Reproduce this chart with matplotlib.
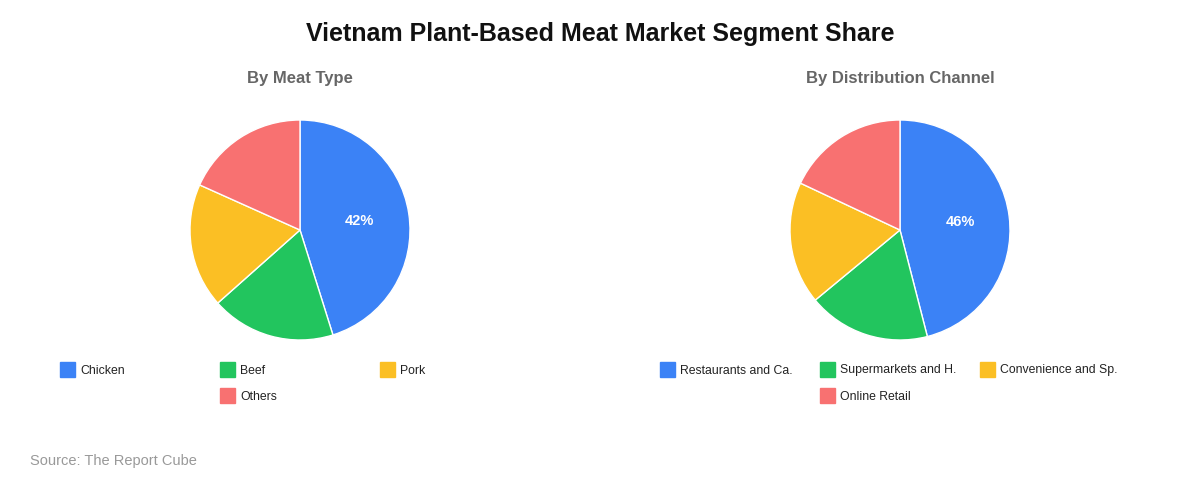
import numpy as np
import matplotlib
matplotlib.use('Agg')
import matplotlib.pyplot as plt
from matplotlib.patches import Rectangle

plt.rcParams['font.family'] = ['Liberation Sans', 'DejaVu Sans']

TITLE = "Vietnam Plant-Based Meat Market Segment Share"
SOURCE = "Source: The Report Cube"

# left pie: by meat type
meat_title = "By Meat Type"
meat_labels = ["Chicken", "Beef", "Pork", "Others"]
meat_values = [42, 17, 17, 17]

# right pie: by distribution channel
chan_title = "By Distribution Channel"
chan_labels = ["Restaurants and Ca.", "Supermarkets and H.", "Convenience and Sp.", "Online Retail"]
chan_values = [46, 18, 18, 18]

colors = ["#3b82f6", "#22c55e", "#fbbf24", "#f87171"]

W, H = 1200, 480
fig = plt.figure(figsize=(12, 4.8), dpi=100)
fig.patch.set_facecolor("white")


def px(x, y):
    return x / W, 1 - y / H


fig.text(*px(600, 34.5), TITLE, ha="center", va="center",
         fontsize=18, fontweight="bold", color="#111111")


def draw_pie(cx, title, labels, values):
    r = 110
    ax = fig.add_axes([(cx - r) / W, (H - 230 - r) / H, 2 * r / W, 2 * r / H])
    wedges, _ = ax.pie(values, colors=colors, startangle=90, counterclock=False,
                       radius=1.0,
                       wedgeprops=dict(edgecolor="white", linewidth=1.0))
    # only the big slice gets a value label
    tot = sum(values)
    for w, v in zip(wedges, values):
        if v / tot > 0.3:
            ang = np.deg2rad((w.theta1 + w.theta2) / 2)
            ax.text(0.55 * np.cos(ang), 0.55 * np.sin(ang), f"{v}%",
                    ha="center", va="center", color="white",
                    fontsize=10.5, fontweight="bold")
    ax.set_xlim(-1, 1)
    ax.set_ylim(-1, 1)
    ax.set_aspect("equal")
    ax.axis("off")

    fig.text(*px(cx, 78.5), title, ha="center", va="center",
             fontsize=12, fontweight="bold", color="#666666")

    # legend: 3 per row, leftover row centred
    x0 = cx - 240
    for i, (lab, col) in enumerate(zip(labels, colors)):
        row, c = divmod(i, 3)
        n_row = min(3, len(labels) - row * 3)
        c = c + (3 - n_row) // 2
        lx = x0 + c * 160
        ly = 369 + row * 26
        fx, fy = px(lx, ly + 7.5)
        fig.patches.append(Rectangle((fx, fy), 15 / W, 15 / H, color=col,
                                     transform=fig.transFigure, figure=fig))
        fig.text(*px(lx + 20, ly + 4.5), lab, ha="left", va="baseline",
                 fontsize=8.8, color="#222222")


draw_pie(300, meat_title, meat_labels, meat_values)
draw_pie(900, chan_title, chan_labels, chan_values)

fig.text(*px(30, 461.5), SOURCE, ha="left", va="center", fontsize=10.5, color="#999999")

fig.savefig("out.png", dpi=100, facecolor="white")
